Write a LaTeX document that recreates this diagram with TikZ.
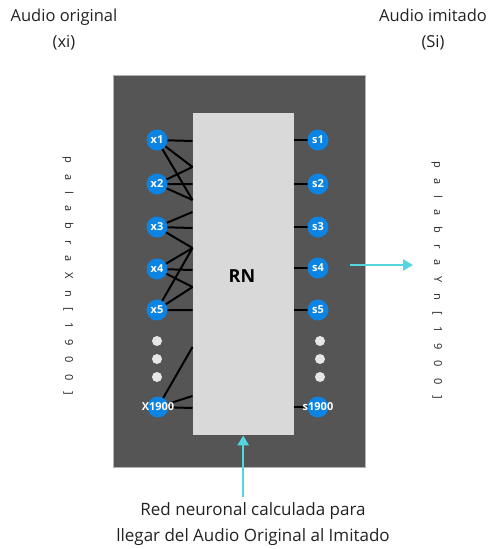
\documentclass[tikz,border=0pt]{standalone}
\usepackage{fontspec}
\setmainfont{Open Sans}
\usetikzlibrary{arrows.meta}
\pgfdeclarelayer{bglayer}
\pgfdeclarelayer{edgelayer}
\pgfsetlayers{bglayer,edgelayer,main}
\definecolor{darkbg}{HTML}{555555}
\definecolor{rnfill}{HTML}{D9D9D9}
\definecolor{nodeblue}{HTML}{0B84E3}
\definecolor{dotgray}{HTML}{E6E6E6}
\definecolor{cyanarrow}{HTML}{55D6DE}
\definecolor{txt}{HTML}{222222}
\begin{document}
\begin{tikzpicture}[x=1pt,y=-1pt,
  title/.style={font=\fontsize{16.5}{26}\selectfont, text=txt, align=center},
  neuron/.style={circle, fill=nodeblue, inner sep=0pt, minimum size=21pt, text=white, font=\fontsize{11}{12}\selectfont\bfseries},
  dotnode/.style={circle, fill=dotgray, inner sep=0pt, minimum size=10pt},
  conn/.style={line width=2pt, black},
  cyanarr/.style={line width=2.4pt, cyanarrow, -{Triangle[width=11pt,length=10pt]}},
  vert/.style={rotate=-90, text=txt, font=\fontsize{11}{12}\selectfont\addfontfeature{LetterSpace=100}}
]
\useasboundingbox (0,0) rectangle (494,549);
% frames
\begin{pgfonlayer}{bglayer}
\node[draw=gray!60, fill=darkbg, line width=0.8pt, minimum width=252pt, minimum height=392pt, inner sep=0pt, anchor=north west] (frame) at (113,75) {};
\node[fill=rnfill, minimum width=101pt, minimum height=322pt, inner sep=0pt, anchor=north west] (rn) at (192.5,113) {};
\end{pgfonlayer}
\node[font=\fontsize{18}{20}\selectfont\bfseries, text=black] (rnlabel) at (242,276) {RN};
% edge anchor points on RN left side
\foreach \n/\y in {a/141,b/167,c/200,d/184,e/212,f/228,g/248,h/270,i/287,j/310,k/347,l/396,m/408}
  \coordinate (L\n) at (192.5,\y);
% left neurons
\node[neuron] (x1) at (157,140) {x1};
\node[neuron] (x2) at (157,184) {x2};
\node[neuron] (x3) at (157,227) {x3};
\node[neuron] (x4) at (157,269) {x4};
\node[neuron] (x5) at (157,310) {x5};
\node[dotnode] (ld1) at (157,341) {};
\node[dotnode] (ld2) at (157,359) {};
\node[dotnode] (ld3) at (157,377) {};
\node[neuron, label={[text=white, font=\fontsize{11}{12}\selectfont\bfseries]center:X1900}] (x6) at (158,407) {};
% left connectors
\begin{pgfonlayer}{edgelayer}
\draw[conn] (x1.center) -- (La) (x1.center) -- (Lb) (x1.center) -- (Lc);
\draw[conn] (x2.center) -- (Lb) (x2.center) -- (Ld) (x2.center) -- (Lc);
\draw[conn] (x3.center) -- (Le) (x3.center) -- (Lf) (x3.center) -- (Lg);
\draw[conn] (x4.center) -- (Lg) (x4.center) -- (Lh) (x4.center) -- (Li);
\draw[conn] (x5.center) -- (Lg) (x5.center) -- (Li) (x5.center) -- (Lj);
\draw[conn] (x6.center) -- (Lk) (x6.center) -- (Ll) (x6.center) -- (Lm);
\end{pgfonlayer}
% right neurons
\node[neuron] (s1) at (318,140) {s1};
\node[neuron] (s2) at (318,184) {s2};
\node[neuron] (s3) at (318,227) {s3};
\node[neuron] (s4) at (318,268) {s4};
\node[neuron] (s5) at (318,310) {s5};
\node[dotnode] (rd1) at (320,341) {};
\node[dotnode] (rd2) at (320,359) {};
\node[dotnode] (rd3) at (320,377) {};
\node[neuron, label={[text=white, font=\fontsize{11}{12}\selectfont\bfseries]center:s1900}] (s6) at (318,407) {};
\begin{pgfonlayer}{edgelayer}
\foreach \s in {s1,s2,s3,s4,s5,s6}
  \draw[conn] (rn.east |- \s) -- (\s.center);
\end{pgfonlayer}
% titles
\node[title] (t1) at (64,30) {Audio original\\(xi)};
\node[title] (t2) at (433,30) {Audio imitado\\(Si)};
% vertical labels
\node[vert] (v1) at (68,276) {palabraXn[1900]};
\node[vert] (v2) at (437,280) {palabraYn[1900]};
% cyan arrows
\coordinate (ra) at (350,265);
\coordinate (rb) at (413,265);
\draw[cyanarr] (ra) -- (rb);
\node[title, font=\fontsize{17}{26}\selectfont] (bottom) at (253,524) {Red neuronal calculada para\\llegar del Audio Original al Imitado};
\draw[cyanarr] (bottom.north -| rn.south) ++(0,-2) coordinate (ba) -- (rn.south);
\end{tikzpicture}
\end{document}
